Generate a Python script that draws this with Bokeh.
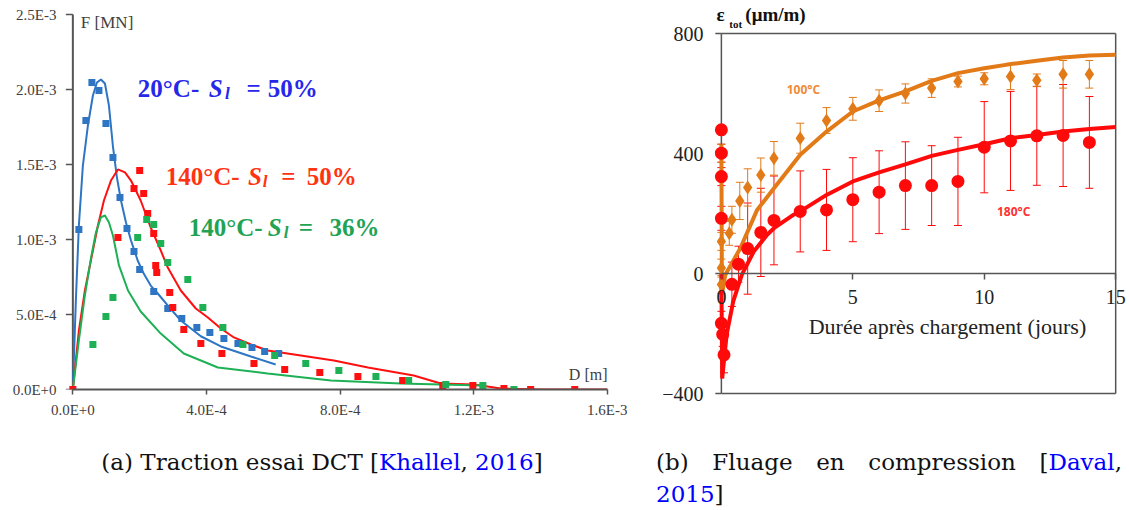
from bokeh.plotting import figure
from bokeh.models import ColumnDataSource, Whisker, TeeHead, Label, FixedTicker, Div, Spacer
from bokeh.layouts import row, column
from bokeh.embed import file_html
from bokeh.resources import INLINE

# ---------------- (a) Traction essai DCT ----------------
blue_x = [1.8e-5, 3.9e-5, 5.7e-5, 7.8e-5, 9.9e-5, 1.2e-4, 1.41e-4, 1.62e-4, 1.83e-4, 2.0e-4,
          2.42e-4, 2.84e-4, 3.26e-4, 3.71e-4, 4.1e-4, 4.52e-4, 4.94e-4, 5.36e-4, 5.74e-4, 6.16e-4]
blue_y = [1.067e-3, 1.793e-3, 2.047e-3, 1.993e-3, 1.773e-3, 1.547e-3, 1.28e-3, 1.073e-3, 0.92e-3, 0.8e-3,
          0.653e-3, 0.54e-3, 0.473e-3, 0.413e-3, 0.38e-3, 0.34e-3, 0.307e-3, 0.28e-3, 0.253e-3, 0.24e-3]
blue_fit_x = [0, 9.0e-6, 1.8e-5, 3.0e-5, 4.5e-5, 6.0e-5, 7.2e-5, 8.4e-5, 9.6e-5, 1.08e-4, 1.2e-4, 1.32e-4,
              1.44e-4, 1.59e-4, 1.74e-4, 1.94e-4, 2.12e-4, 2.33e-4, 2.54e-4, 2.87e-4, 3.23e-4, 3.83e-4,
              4.43e-4, 5.33e-4, 6.07e-4]
blue_fit_y = [0, 0.593e-3, 1.093e-3, 1.493e-3, 1.76e-3, 1.96e-3, 2.047e-3, 2.067e-3, 2.04e-3, 1.893e-3,
              1.62e-3, 1.413e-3, 1.26e-3, 1.113e-3, 0.993e-3, 0.86e-3, 0.773e-3, 0.693e-3, 0.64e-3,
              0.553e-3, 0.46e-3, 0.355e-3, 0.287e-3, 0.22e-3, 0.167e-3]

red_sq_x = [0, 1.35e-4, 1.83e-4, 2.0e-4, 2.12e-4, 2.24e-4, 2.42e-4, 2.48e-4, 2.51e-4, 2.9e-4, 2.99e-4,
            3.32e-4, 3.83e-4, 4.46e-4, 5.42e-4, 6.34e-4, 7.39e-4, 8.53e-4, 9.87e-4, 1.107e-3, 1.197e-3,
            1.29e-3, 1.37e-3, 1.502e-3]
red_sq_y = [0, 1.013e-3, 1.34e-3, 1.46e-3, 1.307e-3, 1.173e-3, 1.04e-3, 0.827e-3, 0.78e-3, 0.647e-3,
            0.547e-3, 0.4e-3, 0.307e-3, 0.24e-3, 0.173e-3, 0.133e-3, 0.113e-3, 0.087e-3, 0.06e-3,
            0.027e-3, 0.027e-3, 0.007e-3, 0.0, 0.0]
red_fit_a_x = [0, 1.8e-5, 3.6e-5, 5.4e-5, 7.5e-5, 9.3e-5, 1.14e-4, 1.35e-4, 1.56e-4, 1.74e-4, 2.03e-4,
               2.33e-4, 2.63e-4, 2.84e-4, 3.23e-4, 3.68e-4, 4.04e-4, 4.43e-4, 4.82e-4, 5.33e-4, 5.83e-4,
               6.82e-4, 7.81e-4, 8.83e-4, 1.02e-3, 1.101e-3, 1.2e-3, 1.281e-3, 1.4e-3, 1.6e-3]
red_fit_a_y = [0, 0.393e-3, 0.66e-3, 0.86e-3, 1.093e-3, 1.26e-3, 1.393e-3, 1.467e-3, 1.447e-3, 1.393e-3,
               1.26e-3, 1.08e-3, 0.927e-3, 0.813e-3, 0.66e-3, 0.54e-3, 0.48e-3, 0.407e-3, 0.347e-3,
               0.3e-3, 0.26e-3, 0.227e-3, 0.193e-3, 0.147e-3, 0.093e-3, 0.04e-3, 0.033e-3, 0.007e-3, 0.0, 0.0]

green_x = [6.0e-5, 9.9e-5, 1.2e-4, 1.94e-4, 2.21e-4, 2.42e-4, 2.63e-4, 2.84e-4, 3.44e-4, 3.89e-4,
           4.49e-4, 5.09e-4, 6.04e-4, 6.97e-4, 7.96e-4, 9.07e-4, 1.005e-3, 1.116e-3, 1.227e-3, 1.32e-3]
green_y = [0.3e-3, 0.487e-3, 0.613e-3, 1.013e-3, 1.133e-3, 1.1e-3, 0.973e-3, 0.847e-3, 0.733e-3, 0.547e-3,
           0.413e-3, 0.3e-3, 0.227e-3, 0.173e-3, 0.127e-3, 0.087e-3, 0.06e-3, 0.033e-3, 0.027e-3, 0.0]
green_fit_x = [0, 1.8e-5, 3.6e-5, 5.4e-5, 6.9e-5, 8.4e-5, 9.6e-5, 1.08e-4, 1.2e-4, 1.38e-4, 1.65e-4,
               2.03e-4, 2.63e-4, 3.32e-4, 4.34e-4, 5.83e-4, 7.72e-4, 9.81e-4, 1.221e-3]
green_fit_y = [0, 0.327e-3, 0.627e-3, 0.873e-3, 1.047e-3, 1.147e-3, 1.16e-3, 1.113e-3, 1.027e-3, 0.827e-3,
               0.66e-3, 0.52e-3, 0.373e-3, 0.24e-3, 0.147e-3, 0.107e-3, 0.06e-3, 0.04e-3, 0.027e-3]

a_xticks = [0, 4e-4, 8e-4, 1.2e-3, 1.6e-3]
a_xtick_labels = ["0.0E+0", "4.0E-4", "8.0E-4", "1.2E-3", "1.6E-3"]
a_yticks = [0, 5e-4, 1e-3, 1.5e-3, 2e-3, 2.5e-3]
a_ytick_labels = ["0.0E+0", "5.0E-4", "1.0E-3", "1.5E-3", "2.0E-3", "2.5E-3"]

# ---------------- (b) Fluage en compression ----------------
orange_x = [0, 0, 0, 0, 0.3, 0.4, 0.7, 1, 1.5, 2, 3, 4, 5, 6, 7, 8, 9, 10, 11, 12, 13, 14]
orange_y = [401, 107, 18, -37, 134, 179, 242, 287, 328, 384, 451, 510, 549, 576, 600, 618, 640, 649, 657, 644, 664, 664]
orange_err = [30, 30, 30, 30, 40, 45, 62, 62, 57, 56, 50, 43, 38, 36, 32, 31, 18, 20, 44, 21, 46, 46]
orange_fit_x = [0, 0.02, 0.15, 0.72, 1.36, 2, 3, 4, 5, 6, 7, 8, 9, 10, 11, 12, 13, 14, 15]
orange_fit_y = [430, -70, -4, 84, 212, 284, 396, 473, 540, 577, 607, 642, 668, 684, 698, 709, 720, 727, 729]

red_x = [0, 0, 0, 0, 0, 0.05, 0.1, 0.4, 0.65, 1, 1.5, 2, 3, 4, 5, 6, 7, 8, 9, 10, 11, 12, 13, 14]
red_y = [479, 401, 323, 184, -166, -203, -271, -36, 31, 83, 137, 177, 207, 212, 246, 271, 293, 293, 307, 421, 442, 459, 460, 437]
red_err = [0, 30, 30, 40, 40, 40, 60, 74, 60, 152, 147, 148, 135, 135, 140, 138, 146, 133, 147, 152, 165, 165, 170, 153]
red_fit_x = [0, 0.03, 0.2, 0.45, 0.78, 1.23, 1.74, 2, 2.75, 3, 4, 5, 6, 7, 8, 9, 10, 11, 12, 13, 14, 15]
red_fit_y = [0, -350, -204, -93, -4, 73, 129, 151, 196, 207, 262, 307, 337, 364, 392, 412, 431, 451, 462, 473, 482, 488]

b_xticks = [0, 5, 10, 15]
b_yticks = [-400, 0, 400, 800]

SERIF = "Liberation Serif"
AXIS_GRAY = "#555555"
TEXT_GRAY = "#404040"
TOP = 4  # same top border for both figures (row aligns frame tops)

# ---------- figure (a) ----------
A_XPAD = 2.5e-5          # room left of the y axis so markers at x=0 are not cut
A_TICK = 2.1e-5          # 7 px tick length in data units
pa = figure(frame_width=543, frame_height=385, x_range=(-A_XPAD, 1.6e-3), y_range=(0, 2.5667e-3),
            min_border_left=64, min_border_right=20, min_border_top=TOP, min_border_bottom=44,
            output_backend="svg", toolbar_location=None)
pa.grid.visible = False
pa.outline_line_color = None
for ax in (pa.xaxis[0], pa.yaxis[0]):
    ax.major_tick_in = 0
    ax.minor_tick_line_color = None
    ax.major_label_text_font = SERIF
    ax.major_label_text_font_size = "15px"
    ax.major_label_text_color = TEXT_GRAY
pa.xaxis.axis_line_color = AXIS_GRAY
pa.xaxis.axis_line_width = 2
pa.xaxis.major_tick_line_color = AXIS_GRAY
pa.xaxis.major_tick_line_width = 1.5
pa.xaxis.major_tick_out = 5
pa.xaxis.major_label_standoff = 7
pa.xaxis.bounds = (a_xticks[0], a_xticks[-1])
pa.xaxis.ticker = FixedTicker(ticks=a_xticks)
pa.xaxis.major_label_overrides = dict(zip(a_xticks, a_xtick_labels))
pa.yaxis.ticker = FixedTicker(ticks=a_yticks)
pa.yaxis.major_label_overrides = dict(zip(a_yticks, a_ytick_labels))
pa.yaxis.axis_line_color = None
pa.yaxis.major_tick_line_color = None
pa.yaxis.major_tick_out = 0
pa.yaxis.major_label_standoff = 8
# y axis line and ticks drawn at x = 0
pa.segment(x0=[0], y0=[a_yticks[0]], x1=[0], y1=[a_yticks[-1]], line_color=AXIS_GRAY, line_width=2)
pa.segment(x0=[-A_TICK] * len(a_yticks), y0=a_yticks, x1=[0] * len(a_yticks), y1=a_yticks,
           line_color=AXIS_GRAY, line_width=1.5)

BLUE = "#2E75C4"
RED = "#FF1010"
GREEN = "#1DB055"
pa.line(blue_fit_x, blue_fit_y, line_color=BLUE, line_width=2)
pa.line(red_fit_a_x, red_fit_a_y, line_color=RED, line_width=2)
pa.line(green_fit_x, green_fit_y, line_color=GREEN, line_width=2)
pa.scatter(blue_x, blue_y, marker="square", size=7, fill_color=BLUE, line_color=None)
pa.scatter(red_sq_x, red_sq_y, marker="square", size=7, fill_color=RED, line_color=None)
pa.scatter(green_x, green_y, marker="square", size=7, fill_color=GREEN, line_color=None)

pa.add_layout(Label(x=2.4e-5, y=2.447e-3, text="F [MN]", text_font=SERIF, text_font_size="17px",
                    text_color=TEXT_GRAY, text_baseline="middle"))
pa.add_layout(Label(x=1.6e-3, y=0.1e-3, text="D [m]", text_font=SERIF, text_font_size="16px",
                    text_color=TEXT_GRAY, text_baseline="middle", text_align="right"))

def series_label(p, color, parts):
    for (x, y, txt, size, style) in parts:
        p.add_layout(Label(x=x, y=y, text=txt, text_font=SERIF, text_font_size=size,
                           text_font_style=style, text_color=color, text_baseline="alphabetic"))

series_label(pa, "#2727EA", [
    (1.945e-4, 2.007e-3, "20°C-", "25px", "bold"),
    (4.07e-4, 2.007e-3, "S", "25px", "bold italic"),
    (4.55e-4, 1.973e-3, "l", "17px", "bold italic"),
    (5.2e-4, 2.007e-3, "=", "25px", "bold"),
    (5.83e-4, 2.007e-3, "50%", "25px", "bold"),
])
series_label(pa, "#FF3312", [
    (2.78e-4, 1.42e-3, "140°C-", "25px", "bold"),
    (5.24e-4, 1.42e-3, "S", "25px", "bold italic"),
    (5.68e-4, 1.387e-3, "l", "17px", "bold italic"),
    (6.24e-4, 1.42e-3, "=", "25px", "bold"),
    (7.0e-4, 1.42e-3, "50%", "25px", "bold"),
])
series_label(pa, "#22A354", [
    (3.47e-4, 1.08e-3, "140°C-", "25px", "bold"),
    (5.83e-4, 1.08e-3, "S", "25px", "bold italic"),
    (6.31e-4, 1.047e-3, "l", "17px", "bold italic"),
    (6.76e-4, 1.08e-3, "=", "25px", "bold"),
    (7.68e-4, 1.08e-3, "36%", "25px", "bold"),
])

# ---------- figure (b) ----------
B_XPAD = 0.3             # room left of the y axis so markers at x=0 are not cut
B_TICK = 0.23            # 6 px tick length in data units
pb = figure(frame_width=414, frame_height=392, x_range=(-B_XPAD, 15.45), y_range=(-410, 896.7),
            min_border_left=86, min_border_right=1, min_border_top=TOP, min_border_bottom=37,
            output_backend="svg", toolbar_location=None)
pb.grid.visible = False
pb.outline_line_color = None
for ax in (pb.xaxis[0], pb.yaxis[0]):
    ax.minor_tick_line_color = None
    ax.major_label_text_font = SERIF
    ax.major_label_text_font_size = "20px"
    ax.major_label_text_color = "#222222"
pb.xaxis.ticker = FixedTicker(ticks=b_xticks)
pb.xaxis.fixed_location = 0
pb.xaxis.bounds = (b_xticks[0], b_xticks[-1])
pb.xaxis.axis_line_color = AXIS_GRAY
pb.xaxis.axis_line_width = 1.5
pb.xaxis.major_tick_line_color = AXIS_GRAY
pb.xaxis.major_tick_line_width = 1.5
pb.xaxis.major_tick_in = 0
pb.xaxis.major_tick_out = 6
pb.xaxis.major_label_standoff = 10
pb.yaxis.ticker = FixedTicker(ticks=b_yticks)
pb.yaxis.axis_line_color = None
pb.yaxis.major_tick_line_color = None
pb.yaxis.major_tick_in = 0
pb.yaxis.major_tick_out = 0
pb.yaxis.major_label_standoff = 10

# frame box of panel (b): left axis, top, right, bottom, plus y ticks
bx0, bx1 = b_xticks[0], b_xticks[-1]
by0, by1 = b_yticks[0], b_yticks[-1]
pb.segment(x0=[bx0, bx0, bx1, bx0], y0=[by0, by1, by0, by0], x1=[bx0, bx1, bx1, bx1], y1=[by1, by1, by1, by0],
           line_color=AXIS_GRAY, line_width=1.5)
pb.segment(x0=[-B_TICK] * len(b_yticks), y0=b_yticks, x1=[0] * len(b_yticks), y1=b_yticks,
           line_color=AXIS_GRAY, line_width=1.5)

ORANGE = "#E27A18"
RED_B = "#FF0A0A"
osrc = ColumnDataSource(dict(x=orange_x, y=orange_y,
                             upper=[v + e for v, e in zip(orange_y, orange_err)],
                             lower=[v - e for v, e in zip(orange_y, orange_err)]))
rsrc = ColumnDataSource(dict(x=red_x, y=red_y,
                             upper=[v + e for v, e in zip(red_y, red_err)],
                             lower=[v - e for v, e in zip(red_y, red_err)]))

pb.add_layout(Whisker(source=rsrc, base="x", upper="upper", lower="lower", line_color=RED_B, line_width=1,
                      upper_head=TeeHead(size=8, line_color=RED_B, line_width=1),
                      lower_head=TeeHead(size=8, line_color=RED_B, line_width=1)))
pb.add_layout(Whisker(source=osrc, base="x", upper="upper", lower="lower", line_color=ORANGE, line_width=1,
                      upper_head=TeeHead(size=8, line_color=ORANGE, line_width=1),
                      lower_head=TeeHead(size=8, line_color=ORANGE, line_width=1)))
pb.line(orange_fit_x, orange_fit_y, line_color=ORANGE, line_width=4)
pb.line(red_fit_x, red_fit_y, line_color=RED_B, line_width=4)
pb.scatter("x", "y", source=osrc, marker="diamond", size=14, fill_color=ORANGE, line_color=None)
pb.scatter("x", "y", source=rsrc, marker="circle", size=13, fill_color=RED_B, line_color=None)

pb.add_layout(Label(x=3.12, y=613, text="100°C", text_font="Open Sans", text_font_size="12px",
                    text_font_style="bold", text_color="#F08A38", text_align="center", text_baseline="middle"))
pb.add_layout(Label(x=11.12, y=207, text="180°C", text_font="Open Sans", text_font_size="12px",
                    text_font_style="bold", text_color="#FF3030", text_align="center", text_baseline="middle"))
pb.add_layout(Label(x=-0.19, y=830, text="ε", text_font=SERIF, text_font_size="19px",
                    text_font_style="bold", text_color="#111111"))
pb.add_layout(Label(x=0.3, y=813, text="tot", text_font=SERIF, text_font_size="11px",
                    text_font_style="bold", text_color="#111111"))
pb.add_layout(Label(x=0.91, y=830, text="(μm/m)", text_font=SERIF, text_font_size="19px",
                    text_font_style="bold", text_color="#111111"))
pb.add_layout(Label(x=8.6, y=-177, text="Durée après chargement (jours)", text_font=SERIF,
                    text_font_size="22px", text_color="#222222", text_align="center", text_baseline="middle"))

# ---------- captions ----------
CAP_FONT = "DejaVu Serif"
cap_style = {"font-family": CAP_FONT, "font-size": "23px", "line-height": "32px", "padding-top": "13px",
             "color": "#111111", "overflow": "visible", "box-sizing": "border-box"}
div_a = Div(text='(a) Traction essai DCT [<span style="color:#0000ff">Khallel</span>, '
                 '<span style="color:#0000ff">2016</span>]',
            width=627, height=77, margin=(0, 0, 0, 0),
            styles=dict(cap_style, **{"text-align": "center", "padding-left": "17px"}))
div_b = Div(text='(b) Fluage en compression [<span style="color:#0000ff">Daval</span>, '
                 '<span style="color:#0000ff">2015</span>]',
            width=466, height=77, margin=(0, 0, 0, 0), styles=dict(cap_style, **{"text-align": "justify"}))

layout = column(row(pa, pb), row(div_a, Spacer(width=29, height=10), div_b))
open("out.html", "w").write(file_html(layout, INLINE))
